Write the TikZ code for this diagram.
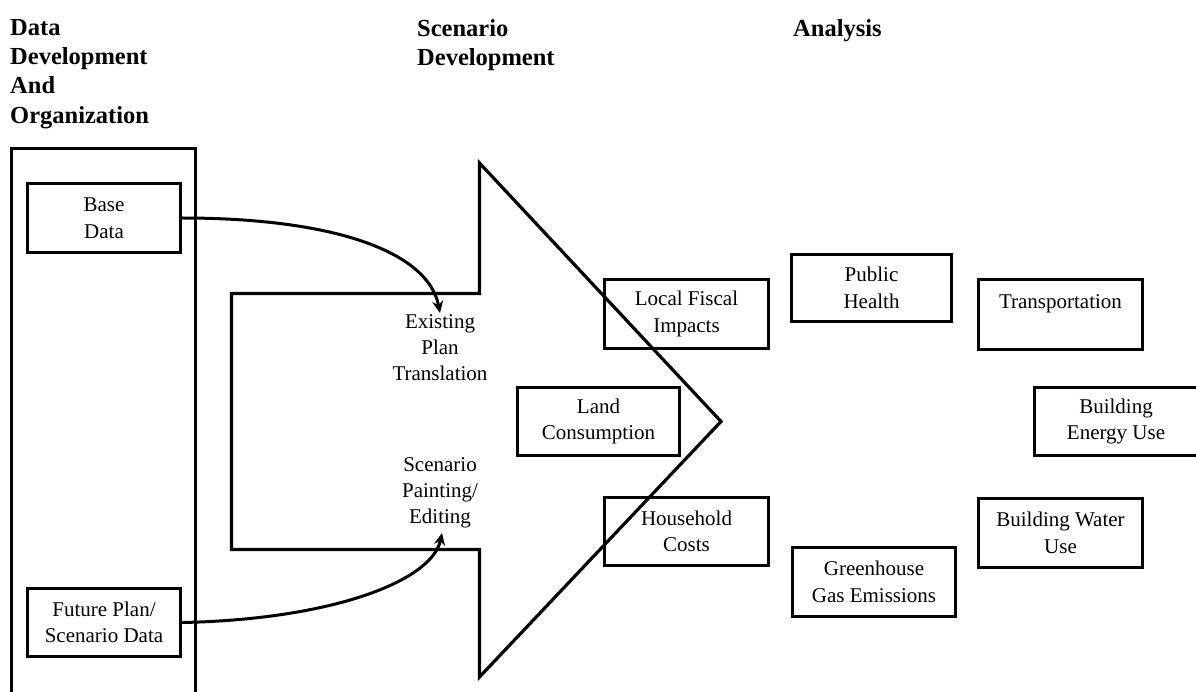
\documentclass[tikz,border=0pt]{standalone}
\usepackage{fontspec}
\setmainfont{Liberation Serif}
\usetikzlibrary{arrows.meta}
\begin{document}
\begin{tikzpicture}[x=1pt,y=-1pt,
  box/.style={draw,line width=3.2pt,align=center,inner sep=0pt,font=\fontsize{21}{26.5}\selectfont},
  lbl/.style={align=center,inner sep=0pt,font=\fontsize{21}{26}\selectfont},
  head/.style={align=left,anchor=north west,inner sep=0pt,font=\fontsize{24.5}{29.3}\selectfont\bfseries},
  conn/.style={line width=3pt,-{Stealth[length=12pt,width=11pt]}}]
\useasboundingbox (0,0) rectangle (1196,692);
% headings
\node[head] (h1) at (10,19) {Data\\Development\\And\\Organization};
\node[head] (h2) at (417,19) {Scenario\\Development};
\node[head] (h3) at (793,19) {Analysis};
% data container
\draw[line width=3.2pt] (11.5,148.5) rectangle (195.5,710);
% big arrow
\draw[line width=3.2pt,line join=miter] (231.5,293.5) -- (479.5,293.5) -- (479.5,163) -- (721,421.5) -- (479.5,677) -- (479.5,549.5) -- (231.5,549.5) -- cycle;
% data boxes
\node[box,minimum width=153pt,minimum height=69pt] (base) at (104,218) {Base\\Data};
\node[box,minimum width=153pt,minimum height=68pt] (fut) at (104,622.5) {Future Plan/\\Scenario Data};
% scenario labels
\node[lbl] (ept) at (440,348) {Existing\\Plan\\Translation};
\node[lbl] (spe) at (440,493) {Scenario\\Painting/\\Editing};
\coordinate (t1) at (440,313);
\coordinate (t2) at (442,533);
\draw[conn] (base.east) .. controls +(150,0) and +(-12,-62) .. (t1);
\draw[conn] (fut.east) .. controls +(150,-3) and +(-10,48) .. (t2);
% analysis boxes
\node[box,minimum width=164pt,minimum height=69pt] (lfi) at (686.5,314) {Local Fiscal\\Impacts};
\node[box,minimum width=162pt,minimum height=68pt] (lc) at (598.5,421.5) {Land\\Consumption};
\node[box,minimum width=164pt,minimum height=68pt] (hc) at (686.5,531.5) {Household\\Costs};
\node[box,minimum width=160pt,minimum height=67pt] (ph) at (871.5,288) {Public\\Health};
\node[box,minimum width=164pt,minimum height=70pt] (tr) at (1060.5,314.5) {Transportation\\\mbox{}};
\node[box,minimum width=163pt,minimum height=68pt] (beu) at (1116,421.5) {Building\\Energy Use};
\node[box,minimum width=164pt,minimum height=69pt] (bwu) at (1060.5,533) {Building Water\\Use};
\node[box,minimum width=163pt,minimum height=69pt] (ghg) at (874,582) {Greenhouse\\Gas Emissions};
\end{tikzpicture}
\end{document}
